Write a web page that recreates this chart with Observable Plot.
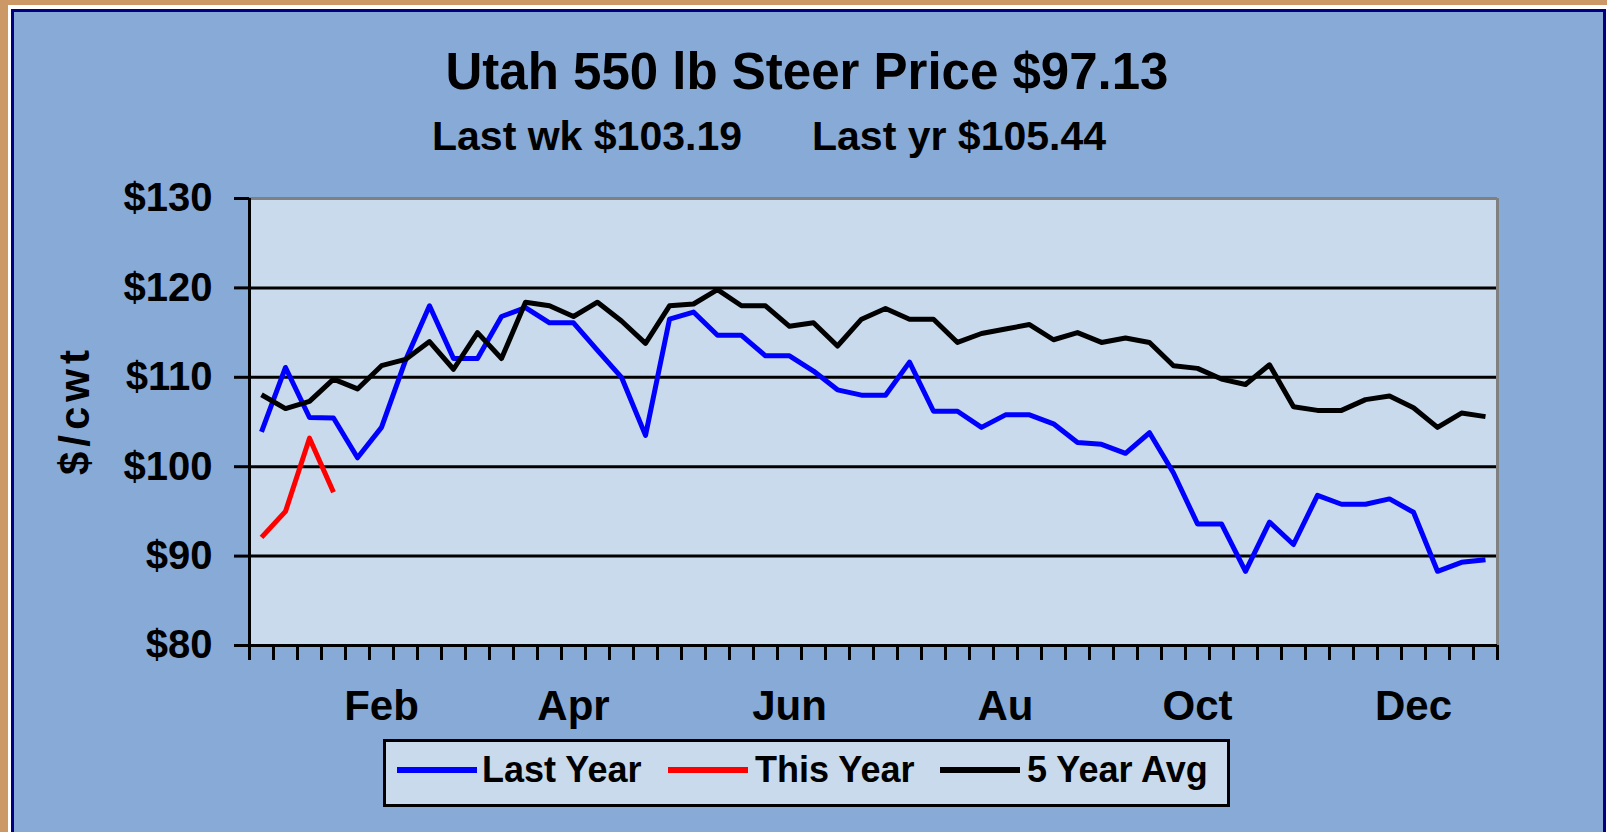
<!DOCTYPE html>
<html><head><meta charset="utf-8">
<script src="https://cdn.jsdelivr.net/npm/d3@7"></script>
<script src="https://cdn.jsdelivr.net/npm/@observablehq/plot@0.6"></script>
<style>
html,body{margin:0;padding:0;width:1607px;height:832px;overflow:hidden;background:#CC9966;font-family:"Liberation Sans",Arial,sans-serif;color:#000;}
#white{position:absolute;left:8px;top:5px;width:1700px;height:900px;background:#fff;}
#navy{position:absolute;left:11px;top:9px;width:1595px;height:900px;background:#000080;}
#area{position:absolute;left:14px;top:12px;width:1589px;height:900px;background:#88AAD6;}
#chart{position:absolute;left:0;top:0;}
.title{position:absolute;left:0;width:1614px;top:46px;text-align:center;font-size:51px;font-weight:bold;line-height:1;white-space:nowrap;}
.sub{position:absolute;top:116px;font-size:41px;font-weight:bold;line-height:1;white-space:nowrap;}
#legend{position:absolute;left:383px;top:739px;width:847px;height:68px;box-sizing:border-box;border:3px solid #000;background:#C9DAEC;}
.sw{position:absolute;top:25px;width:80px;height:6px;}
.lt{position:absolute;top:10px;font-size:36px;font-weight:bold;line-height:1;white-space:nowrap;}
</style></head>
<body>
<div id="white"></div><div id="navy"></div><div id="area"></div>
<div id="chart"></div>
<div class="title" id="title"></div>
<div class="sub" id="sub1" style="left:432px"></div>
<div class="sub" id="sub2" style="left:812px"></div>
<div id="legend"></div>
<script>
// ---- data ----
const titleText = "Utah 550 lb Steer Price $97.13";
const subtitle1 = "Last wk $103.19";
const subtitle2 = "Last yr $105.44";
const yLabel = "$/cwt";

const seriesNames = ["Last Year", "This Year", "5 Year Avg"];
const seriesColors = ["#0000FF", "#FF0000", "#000000"];

const lastYear = [103.9, 111.1, 105.5, 105.44, 101.0, 104.4, 111.9, 118.0, 112.1, 112.1,
  116.8, 117.8, 116.1, 116.1, 113.0, 110.0, 103.5, 116.5, 117.3, 114.7,
  114.7, 112.4, 112.4, 110.7, 108.6, 108.0, 108.0, 111.7, 106.2, 106.2,
  104.4, 105.8, 105.8, 104.8, 102.7, 102.5, 101.5, 103.8, 99.3, 93.6,
  93.6, 88.3, 93.8, 91.3, 96.8, 95.8, 95.8, 96.4, 94.9, 88.3,
  89.3, 89.6];
const thisYear = [92.1, 95.0, 103.19, 97.13];
const fiveYearAvg = [108.05, 106.5, 107.3, 109.8, 108.7, 111.3, 112.0, 114.0, 110.9, 115.0,
  112.1, 118.4, 118.0, 116.8, 118.4, 116.3, 113.8, 118.0, 118.2, 119.8,
  118.0, 118.0, 115.7, 116.1, 113.5, 116.5, 117.7, 116.5, 116.5, 113.9,
  114.9, 115.4, 115.9, 114.2, 115.0, 113.9, 114.4, 113.9, 111.3, 111.0,
  109.8, 109.2, 111.4, 106.7, 106.3, 106.3, 107.5, 107.9, 106.6, 104.4,
  106.0, 105.6];

const weekCount = 52;
const monthLabels = ["Feb", "Apr", "Jun", "Au", "Oct", "Dec"];
const monthLabelWeeks = [5, 13, 22, 31, 39, 48];
const yTicks = [80, 90, 100, 110, 120, 130];
const gridValues = [90, 100, 110, 120];

// ---- build ----
const seriesValues = [lastYear, thisYear, fiveYearAvg];
const rows = seriesValues.flatMap((vals, s) =>
  vals.map((v, i) => ({series: seriesNames[s], week: i + 0.5, value: v})));

document.getElementById("title").textContent = titleText;
document.getElementById("sub1").textContent = subtitle1;
document.getElementById("sub2").textContent = subtitle2;

const plot = Plot.plot({
  width: 1607,
  height: 740,
  marginTop: 198,
  marginLeft: 249,
  marginRight: 110,
  marginBottom: 95,
  style: {background: "transparent", overflow: "visible", fontFamily: "'Liberation Sans', Arial, sans-serif", color: "#000"},
  x: {type: "linear", domain: [0, weekCount]},
  y: {type: "linear", domain: [yTicks[0], yTicks[yTicks.length - 1]]},
  color: {domain: seriesNames, range: seriesColors},
  marks: [
    Plot.frame({fill: "#C9DAEC", stroke: null}),
    Plot.ruleY(gridValues, {stroke: "#000", strokeWidth: 3}),
    Plot.ruleY([yTicks[yTicks.length - 1]], {stroke: "#808080", strokeWidth: 3}),
    Plot.ruleX([weekCount], {stroke: "#808080", strokeWidth: 3}),
    Plot.ruleY([yTicks[0]], {stroke: "#000", strokeWidth: 3}),
    Plot.ruleX([0], {stroke: "#000", strokeWidth: 3}),
    Plot.axisY({ticks: yTicks, tickSize: 15, tickPadding: 22, strokeWidth: 3,
      tickFormat: d => "$" + d, fontSize: 40, fontWeight: "bold", label: null}),
    Plot.axisX({ticks: d3.range(weekCount + 1), tickSize: 15, strokeWidth: 3,
      tickFormat: () => "", label: null}),
    Plot.axisX({ticks: monthLabelWeeks.map(w => w + 0.5), tickSize: 0, tickPadding: 45,
      tickFormat: (d, i) => monthLabels[i], fontSize: 42, fontWeight: "bold", label: null}),
    Plot.text([yLabel], {frameAnchor: "left", textAnchor: "middle", lineAnchor: "middle",
      dx: -174, dy: -12, rotate: -90, fontSize: 42, fontWeight: "bold"}),
    Plot.line(rows, {x: "week", y: "value", z: "series", stroke: "series", strokeWidth: 5,
      strokeLinejoin: "round", strokeLinecap: "butt"})
  ]
});
d3.select(plot).selectAll("text").filter(function() { return this.textContent === yLabel; })
  .attr("letter-spacing", "5px");
document.getElementById("chart").appendChild(plot);

// ---- legend ----
const legend = document.getElementById("legend");
const swLeft = [11, 282, 554];
const txLeft = [96, 369, 641];
seriesNames.forEach((name, i) => {
  const sw = document.createElement("div");
  sw.className = "sw"; sw.style.left = swLeft[i] + "px"; sw.style.background = seriesColors[i];
  legend.appendChild(sw);
  const t = document.createElement("div");
  t.className = "lt"; t.style.left = txLeft[i] + "px"; t.textContent = name;
  legend.appendChild(t);
});
</script>
</body></html>
